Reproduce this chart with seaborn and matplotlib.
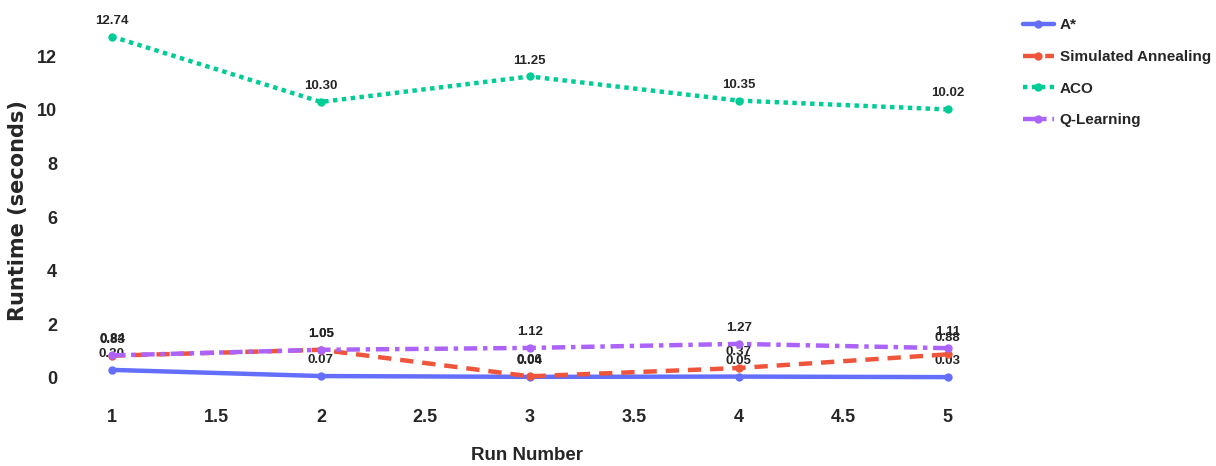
import pandas as pd
import seaborn as sns
import matplotlib.pyplot as plt

# Runtime data
runs = [1, 2, 3, 4, 5]
astar = [0.30, 0.07, 0.04, 0.05, 0.03]
sim_annealing = [0.83, 1.05, 0.06, 0.37, 0.88]
aco = [12.74, 10.30, 11.25, 10.35, 10.02]
q_learning = [0.84, 1.05, 1.12, 1.27, 1.11]

algorithms = ['A*', 'Simulated Annealing', 'ACO', 'Q-Learning']
series = [astar, sim_annealing, aco, q_learning]

rows = []
for name, vals in zip(algorithms, series):
    for r, v in zip(runs, vals):
        rows.append({'Run Number': r, 'Runtime (seconds)': v, 'Algorithm': name})
df = pd.DataFrame(rows)

palette = {'A*': '#636EFA', 'Simulated Annealing': '#EF553B', 'ACO': '#00CC96', 'Q-Learning': '#AB63FA'}
dashes = {'A*': '', 'Simulated Annealing': (3, 2), 'ACO': (1, 1), 'Q-Learning': (3, 1.3, 1, 1.3)}
markers = {a: 'o' for a in algorithms}

sns.set_style('white')
plt.rcParams['font.family'] = ['Liberation Sans', 'DejaVu Sans']

fig = plt.figure(figsize=(12.16, 4.66), dpi=100)
ax = fig.add_axes([0.0835, 0.1545, 0.7045, 0.805])

sns.lineplot(data=df, x='Run Number', y='Runtime (seconds)', hue='Algorithm', style='Algorithm',
             palette=palette, dashes=dashes, markers=markers, linewidth=3.2, markersize=6,
             markeredgewidth=0, ax=ax, zorder=3)

# value labels above each point
for name, vals in zip(algorithms, series):
    for r, v in zip(runs, vals):
        ax.annotate(f'{v:.2f}', (r, v), xytext=(0, 11.5), textcoords='offset points',
                    ha='center', va='center', fontsize=9.5, fontweight='bold', zorder=1)

ax.set_xlim(0.95, 5.05)
ax.set_ylim(-0.6, 13.4)
ax.set_xticks([1, 1.5, 2, 2.5, 3, 3.5, 4, 4.5, 5])
ax.set_xticklabels(['1', '1.5', '2', '2.5', '3', '3.5', '4', '4.5', '5'])
ax.set_yticks([0, 2, 4, 6, 8, 10, 12])
ax.tick_params(axis='y', pad=32, labelsize=13, length=0)
ax.tick_params(axis='x', pad=11, labelsize=13, length=0)
for lab in ax.get_xticklabels() + ax.get_yticklabels():
    lab.set_fontweight('bold')

ax.set_xlabel('Run Number', fontsize=13.5, fontweight='bold')
ax.set_ylabel('Runtime (seconds)', fontsize=15, fontweight='bold', family='DejaVu Sans')
ax.xaxis.set_label_coords(0.4965, -0.163)
ax.yaxis.set_label_coords(-0.0975, 0.49)
ax.yaxis.label.set_va('center')
ax.xaxis.label.set_va('center')
sns.despine(ax=ax, left=True, bottom=True)

handles, labels = ax.get_legend_handles_labels()
ax.legend(handles, labels, loc='upper left', bbox_to_anchor=(0.83, 0.99), bbox_transform=fig.transFigure,
          frameon=False, prop={'weight': 'bold', 'size': 11}, handlelength=2.0, labelspacing=1.15,
          handletextpad=0.4)

plt.savefig('out.png', dpi=100)
